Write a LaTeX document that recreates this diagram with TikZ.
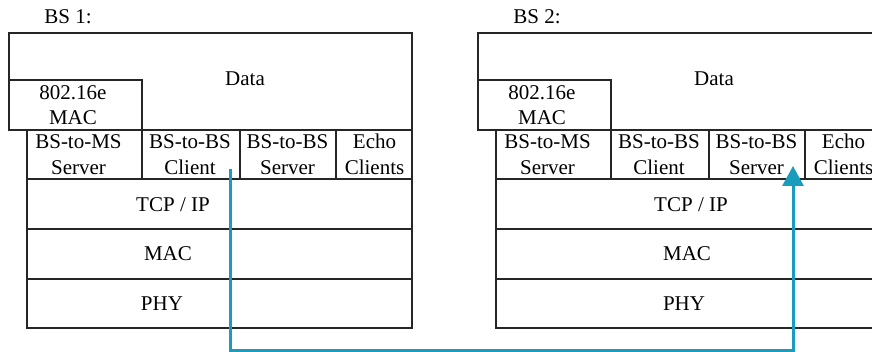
\documentclass[tikz,border=0pt]{standalone}
\usepackage{fontspec}
\setmainfont{Liberation Serif}
\usetikzlibrary{arrows.meta}
\definecolor{linkblue}{RGB}{26,157,189}
\tikzset{
  frame/.style={draw=black!85, line width=1.1pt},
  lbl/.style={font=\fontsize{21}{25.5}\selectfont, align=center, inner sep=0pt},
  link/.style={draw=linkblue, line width=3pt},
}
% One base-station protocol stack.
% #1 name prefix, #2 horizontal shift, #3 title,
% #4/#5/#6 x of the TCP/IP, MAC and PHY labels
\newcommand{\bsstack}[6]{%
  \begin{scope}[xshift=#2]
    \node[lbl, anchor=base] (#1title) at (68,23.3) {#3};
    % data area with the 802.16e MAC corner
    \draw[frame] (9,33) rectangle (412,130);
    \draw[frame] (9,80) rectangle (142,130);
    % application row
    \draw[frame] (27,130) rectangle (412,179);
    \draw[frame] (142,130) -- (142,179) (240,130) -- (240,179) (336,130) -- (336,179);
    % lower layers
    \draw[frame] (27,179) rectangle (412,229);
    \draw[frame] (27,229) rectangle (412,279);
    \draw[frame] (27,279) rectangle (412,328);
    \node[lbl, anchor=base] (#1data) at (245,85.7) {Data};
    \node[lbl] (#1mac16) at (73,105) {802.16e\\MAC};
    \node[lbl] (#1bsms) at (78.5,154.5) {BS-to-MS\\Server};
    \node[lbl] (#1client) at (190,154.5) {BS-to-BS\\Client};
    \node[lbl] (#1server) at (287.5,154.5) {BS-to-BS\\Server};
    \node[lbl] (#1echo) at (374.5,154.5) {Echo\\Clients};
    \node[lbl, anchor=base] (#1tcp) at (#4,212) {TCP / IP};
    \node[lbl, anchor=base] (#1mac) at (#5,261) {MAC};
    \node[lbl, anchor=base] (#1phy) at (#6,311) {PHY};
  \end{scope}}
\begin{document}
\begin{tikzpicture}[x=1pt, y=-1pt]
  \useasboundingbox (0,0) rectangle (872,352);
  \clip (0,0) rectangle (872,352);
  \bsstack{a}{0pt}{BS 1:}{173}{168}{162}
  \bsstack{b}{469pt}{BS 2:}{222}{218}{215}
  % link from the BS 1 client down and over to the BS 2 server
  \coordinate (src) at (230,169);
  \coordinate (dst) at (793,166);
  \draw[link, -{Triangle[width=21pt,length=20pt]}]
    (src) -- ++(0,181) -| (dst);
\end{tikzpicture}
\end{document}
